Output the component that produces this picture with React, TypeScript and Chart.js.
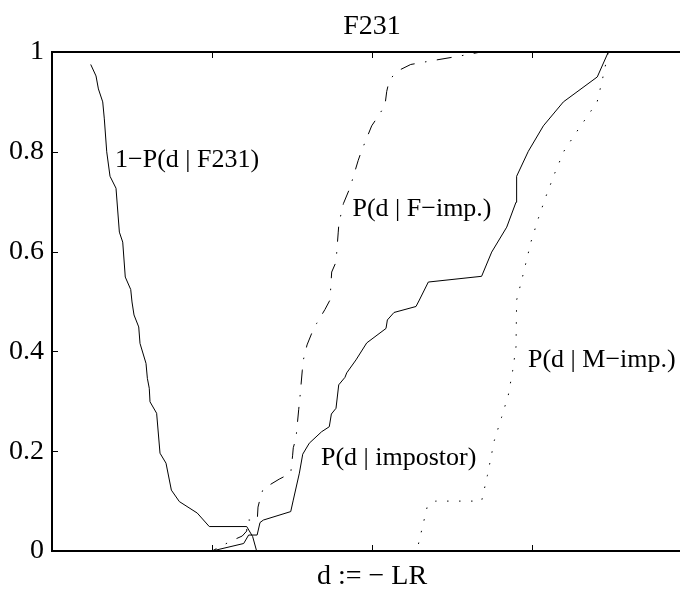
import { useEffect, useRef } from 'react';
import { Chart, registerables } from 'chart.js';

Chart.register(...registerables);

const FONT = "'Liberation Serif', 'Times New Roman', Times, serif";

const titleText = 'F231';
const xAxisTitle = 'd := \u2212 LR';
const yTickLabels = ['0', '0.2', '0.4', '0.6', '0.8', '1'];

// 1 - P(d | F231)
const f231X = [0.242, 0.275, 0.29, 0.317, 0.327, 0.342, 0.3625, 0.4, 0.421, 0.442, 0.458, 0.492, 0.5, 0.5125, 0.542, 0.55, 0.5875, 0.596, 0.608, 0.6125, 0.654, 0.675, 0.7125, 0.746, 0.796, 0.908, 0.983, 1.217, 1.254, 1.279, 4.0];
const f231Y = [0.975, 0.952, 0.926, 0.9, 0.866, 0.8, 0.751, 0.727, 0.639, 0.619, 0.549, 0.524, 0.499, 0.473, 0.449, 0.416, 0.376, 0.346, 0.326, 0.299, 0.276, 0.196, 0.176, 0.122, 0.099, 0.076, 0.049, 0.049, 0.029, 0, 0];

// P(d | impostor)
const impX = [0, 1.0, 1.198, 1.229, 1.282, 1.3, 1.321, 1.492, 1.508, 1.546, 1.567, 1.608, 1.685, 1.733, 1.746, 1.775, 1.792, 1.831, 1.842, 1.9, 1.967, 2.0875, 2.096, 2.1375, 2.275, 2.296, 2.352, 2.6125, 2.685, 2.748, 2.842, 2.9, 2.904, 2.977, 3.071, 3.196, 3.408, 3.477, 4.0];
const impY = [0, 0, 0.015, 0.032, 0.032, 0.057, 0.062, 0.079, 0.102, 0.156, 0.194, 0.216, 0.239, 0.249, 0.2745, 0.286, 0.333, 0.348, 0.357, 0.383, 0.417, 0.446, 0.463, 0.478, 0.49, 0.503, 0.539, 0.548, 0.5505, 0.599, 0.649, 0.699, 0.751, 0.801, 0.852, 0.9, 0.95, 1.0, 1.0];

// P(d | F-imp.)
const fImpX = [0, 1.0, 1.123, 1.189, 1.217, 1.219, 1.283, 1.2875, 1.304, 1.321, 1.358, 1.42, 1.492, 1.504, 1.508, 1.525, 1.542, 1.55, 1.564, 1.571, 1.594, 1.623, 1.654, 1.706, 1.7375, 1.748, 1.775, 1.789, 1.793, 1.821, 1.8625, 1.914, 1.936, 1.998, 2.04, 2.081, 2.092, 2.108, 2.154, 2.242, 2.383, 2.55, 2.68, 4.0];
const fImpY = [0, 0, 0.0206, 0.03, 0.04, 0.062, 0.062, 0.088, 0.109, 0.126, 0.132, 0.144, 0.156, 0.192, 0.207, 0.226, 0.284, 0.309, 0.361, 0.383, 0.413, 0.436, 0.456, 0.484, 0.503, 0.559, 0.579, 0.639, 0.656, 0.696, 0.728, 0.783, 0.803, 0.852, 0.872, 0.893, 0.921, 0.943, 0.961, 0.975, 0.983, 0.992, 1.0, 1.0];

// P(d | M-imp.)
const mImpX = [0, 2.28, 2.346, 2.398, 2.685, 2.721, 2.764, 2.81, 2.852, 2.879, 2.9, 2.904, 2.942, 2.994, 3.04, 3.0875, 3.142, 3.2, 3.281, 3.367, 3.408, 3.442, 3.477, 4.0];
const mImpY = [0, 0, 0.09, 0.1, 0.1, 0.151, 0.221, 0.268, 0.3126, 0.361, 0.409, 0.503, 0.551, 0.62, 0.667, 0.711, 0.757, 0.8016, 0.841, 0.881, 0.901, 0.948, 1.0, 1.0];

const labelTexts = ['1\u2212P(d | F231)', 'P(d | F\u2212imp.)', 'P(d | impostor)', 'P(d | M\u2212imp.)'];
const labelX = [0.394, 1.878, 1.681, 2.975];
const labelY = [0.784, 0.685, 0.186, 0.383];

const toPts = (xs: number[], ys: number[]) => xs.map((x, i) => ({ x, y: ys[i] }));

const framePlugin = {
  id: 'matlabFrame',
  afterDraw(chart: any) {
    const { ctx, chartArea, scales } = chart;
    const xs = scales.x;
    const ys = scales.y;
    ctx.save();
    ctx.strokeStyle = '#000';
    ctx.lineWidth = 1;
    ctx.beginPath();
    xs.ticks.forEach((t: any) => {
      const px = Math.round(xs.getPixelForValue(t.value)) + 0.5;
      ctx.moveTo(px, chartArea.bottom);
      ctx.lineTo(px, chartArea.bottom - 6);
      ctx.moveTo(px, chartArea.top);
      ctx.lineTo(px, chartArea.top + 6);
    });
    ys.ticks.forEach((t: any) => {
      const py = Math.round(ys.getPixelForValue(t.value)) + 0.5;
      ctx.moveTo(chartArea.left, py);
      ctx.lineTo(chartArea.left + 6, py);
    });
    ctx.stroke();
    ctx.lineWidth = 2;
    ctx.beginPath();
    ctx.moveTo(chartArea.left - 1, chartArea.top);
    ctx.lineTo(chartArea.right, chartArea.top);
    ctx.stroke();
    ctx.fillStyle = '#000';
    ctx.font = `26px ${FONT}`;
    ctx.textAlign = 'left';
    ctx.textBaseline = 'middle';
    labelTexts.forEach((txt, i) => {
      ctx.fillText(txt, xs.getPixelForValue(labelX[i]), ys.getPixelForValue(labelY[i]));
    });
    ctx.restore();
  },
};

export default function App() {
  const ref = useRef<HTMLCanvasElement>(null);
  useEffect(() => {
    const common = {
      borderColor: '#000',
      borderWidth: 1,
      pointRadius: 0,
      tension: 0,
      fill: false,
      clip: 4,
    };
    const chart = new Chart(ref.current as HTMLCanvasElement, {
      type: 'line',
      data: {
        datasets: [
          { ...common, label: labelTexts[0], data: toPts(f231X, f231Y) },
          { ...common, label: labelTexts[2], data: toPts(impX, impY) },
          { ...common, label: labelTexts[1], data: toPts(fImpX, fImpY), borderDash: [15, 10.5, 1.5, 10.5] },
          { ...common, label: labelTexts[3], data: toPts(mImpX, mImpY), borderDash: [1.5, 10.5] },
        ],
      },
      options: {
        responsive: false,
        animation: false,
        events: [],
        layout: { padding: { top: 0, left: 0, right: 8, bottom: 0 } },
        plugins: {
          legend: { display: false },
          tooltip: { enabled: false },
          title: {
            display: true,
            text: titleText,
            fullSize: false,
            color: '#000',
            font: { family: FONT, size: 28, weight: 'normal', lineHeight: 1.2 },
            padding: { top: 10, bottom: 8.4 },
          },
        },
        scales: {
          x: {
            type: 'linear',
            min: 0,
            max: 4,
            ticks: { display: false, stepSize: 1 },
            grid: { display: false },
            border: { display: true, color: '#000', width: 2 },
            title: {
              display: true,
              text: xAxisTitle,
              color: '#000',
              font: { family: FONT, size: 28, lineHeight: 0.9 },
              padding: 0,
            },
            afterFit: (s: any) => { s.height = 38; },
          },
          y: {
            type: 'linear',
            min: 0,
            max: 1,
            ticks: {
              stepSize: 0.2,
              color: '#000',
              padding: 0,
              font: { family: FONT, size: 28 },
              callback: (_v: any, i: number) => yTickLabels[i],
            },
            grid: { display: false },
            border: { display: true, color: '#000', width: 2 },
            afterFit: (s: any) => { s.width = 52; },
          },
        },
      },
      plugins: [framePlugin],
    } as any);
    return () => chart.destroy();
  }, []);
  return (
    <div style={{ position: 'fixed', left: 0, top: 0, width: 680, height: 589, overflow: 'hidden', background: '#fff' }}>
      <canvas ref={ref} width={700} height={589} style={{ display: 'block', width: 700, height: 589 }} />
    </div>
  );
}
